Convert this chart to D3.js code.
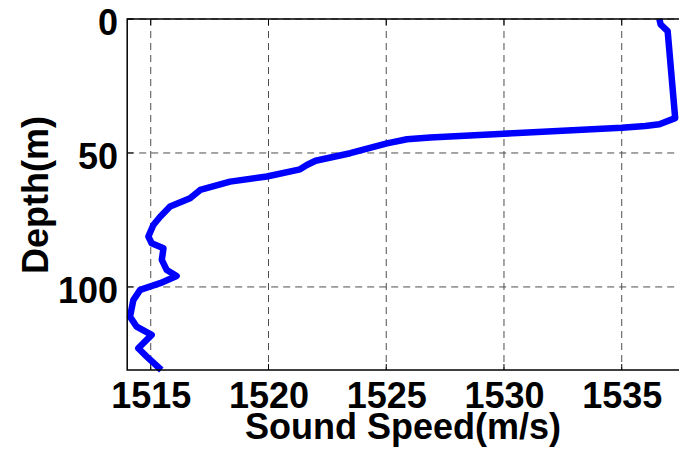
<!DOCTYPE html>
<html>
<head>
<meta charset="utf-8">
<script src="https://cdn.jsdelivr.net/npm/d3@7"></script>
<style>
  html, body { margin: 0; padding: 0; background: #fff; }
  svg { display: block; }
  text { font-family: "Liberation Sans", Arial, Helvetica, sans-serif; font-weight: bold; fill: #000; }
</style>
</head>
<body>
<svg id="chart" width="679" height="449"></svg>
<script>
// Sound speed profile: depth (m) and sound speed (m/s) along the cast
const depth = [0, 2, 4.5, 37, 39.3, 39.9, 40.6, 42.8, 44.2, 44.9, 46.4, 50.1, 52.9, 54.5, 56.1,
               58.8, 60.7, 63.8, 66.9, 70.0, 73.8, 76.9, 81.2, 83.7, 85.6, 89.9, 93.7, 95.9, 98.6,
               101.1, 104.9, 111.1, 114.8, 117.9, 122.9, 126.0, 131];
const speed = [1536.6, 1536.65, 1536.95, 1537.27, 1536.6, 1536.0, 1535.0, 1530.0, 1526.87, 1525.88, 1525.03, 1523.47, 1522.0, 1521.63, 1521.34,
               1519.93, 1518.37, 1517.1, 1516.67, 1515.82, 1515.4, 1515.11, 1514.9, 1515.04, 1515.54, 1515.47, 1515.68, 1516.1, 1515.4,
               1514.55, 1514.26, 1514.12, 1514.4, 1515.04, 1514.47, 1514.83, 1515.45];

const speedTicks = [1515, 1520, 1525, 1530, 1535];
const depthTicks = [0, 50, 100];
const xTitle = "Sound Speed(m/s)";
const yTitle = "Depth(m)";

const svg = d3.select("#chart");
const plotL = 127.2, plotR = 680.6, plotT = 19, plotB = 370;

const x = d3.scaleLinear().domain([1514, 1537.5]).range([plotL, plotR]);
const y = d3.scaleLinear().domain([0, 131]).range([plotT, plotB]);

// dashed grid
const grid = svg.append("g").attr("stroke", "#4d4d4d").attr("stroke-width", 1).attr("stroke-dasharray", "7,5");
grid.selectAll("line.vx").data(speedTicks).join("line")
  .attr("x1", d => x(d)).attr("x2", d => x(d))
  .attr("y1", plotT).attr("y2", plotB);
grid.selectAll("line.hy").data(depthTicks).join("line")
  .attr("x1", plotL).attr("x2", plotR)
  .attr("y1", d => y(d)).attr("y2", d => y(d));

// inward tick marks
const ticks = svg.append("g").attr("stroke", "#000").attr("stroke-width", 1);
speedTicks.forEach(v => {
  ticks.append("line").attr("x1", x(v)).attr("x2", x(v)).attr("y1", plotB).attr("y2", plotB - 6);
  ticks.append("line").attr("x1", x(v)).attr("x2", x(v)).attr("y1", plotT).attr("y2", plotT + 6);
});
depthTicks.forEach(d => {
  ticks.append("line").attr("x1", plotL).attr("x2", plotL + 6).attr("y1", y(d)).attr("y2", y(d));
});

// axis labels through d3 axes
const xAxis = svg.append("g").attr("transform", `translate(0,${plotB})`)
  .call(d3.axisBottom(x).tickValues(speedTicks).tickSize(0).tickPadding(12.5).tickFormat(d3.format("d")));
xAxis.select(".domain").remove();
xAxis.selectAll("text").attr("font-size", 36).attr("font-family", null);

const yAxis = svg.append("g").attr("transform", `translate(${plotL},0)`)
  .call(d3.axisLeft(y).tickValues(depthTicks).tickSize(0).tickPadding(9.2).tickFormat(d3.format("d")));
yAxis.select(".domain").remove();
yAxis.selectAll("text").attr("font-size", 36).attr("font-family", null).attr("dy", "0.42em");

// profile line
const pts = depth.map((d, i) => ({ d, v: speed[i] }));
svg.append("path")
  .datum(pts)
  .attr("fill", "none")
  .attr("stroke", "#0000ff")
  .attr("stroke-width", 6.5)
  .attr("stroke-linejoin", "round")
  .attr("d", d3.line().x(p => x(p.v)).y(p => y(p.d)));

// axes box
svg.append("rect")
  .attr("x", plotL).attr("y", plotT)
  .attr("width", plotR - plotL).attr("height", plotB - plotT)
  .attr("fill", "none").attr("stroke", "#000").attr("stroke-width", 1.5);

// titles
svg.append("text").attr("x", 403).attr("y", 438.5).attr("text-anchor", "middle")
  .attr("font-size", 36).text(xTitle);
svg.append("text").attr("transform", "translate(48,195) rotate(-90)").attr("text-anchor", "middle")
  .attr("font-size", 36).text(yTitle);
</script>
</body>
</html>
